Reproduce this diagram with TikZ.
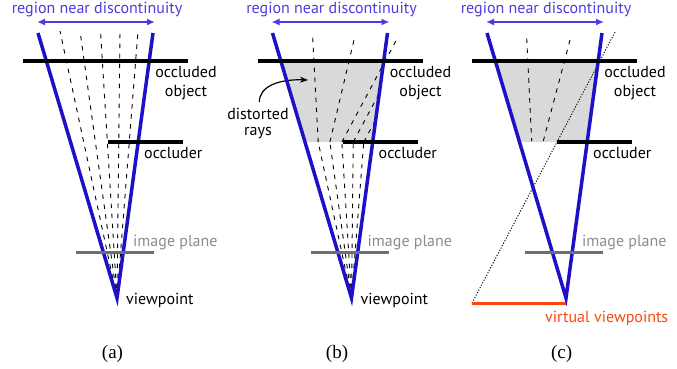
\documentclass[tikz,border=0pt]{standalone}
\usepackage{fontspec}
\setmainfont{PT Sans}
\newfontfamily\capfont{Liberation Serif}
\usetikzlibrary{arrows.meta,calc}
\definecolor{lineblue}{RGB}{30,15,200}
\definecolor{regblue}{RGB}{75,60,225}
\definecolor{occgray}{RGB}{217,217,217}
\definecolor{planegray}{RGB}{110,110,110}
\definecolor{planetext}{RGB}{140,140,140}
\definecolor{vred}{RGB}{255,70,10}
\begin{document}
\begin{tikzpicture}[x=1pt,y=-1pt,
  lbl/.style={font=\fontsize{16}{18}\selectfont, inner sep=0pt, anchor=base west},
  clbl/.style={font=\fontsize{16}{18}\selectfont, inner sep=0pt, anchor=base},
  caption/.style={font=\capfont\fontsize{19}{21}\selectfont, inner sep=0pt, anchor=base},
  ray/.style={line width=0.9pt, dash pattern=on 4.5pt off 5.5pt},
  cone/.style={line width=3.5pt, draw=lineblue, line join=miter},
  wall/.style={line width=3.5pt, draw=black},
  plane/.style={line width=3pt, draw=planegray},
  region/.style={line width=1.5pt, draw=regblue, {Latex[length=8pt,width=7pt]}-{Latex[length=8pt,width=7pt]}},
  hidden/.style={fill=occgray, draw=none}
]
\useasboundingbox (0,0) rectangle (677,368);

% ---------- panel (b) specific ----------
\begin{scope}[xshift=234.5]
  \coordinate (b-lt) at (38,33);
  \coordinate (b-rt) at (153,33);
  \coordinate (b-vp) at (117,298);
  \fill[occgray] ($(b-lt)!0.10566!(b-vp)$) -- ($(b-rt)!0.10566!(b-vp)$)
     -- ($(b-rt)!0.41132!(b-vp)$) -- ($(b-lt)!0.41132!(b-vp)$) -- cycle;
  \foreach \t [count=\i] in {60,80,100.5,120,138}{
    \coordinate (b-top\i) at (\t,31);
    \coordinate (b-bend\i) at ($(b-vp)!0.5843!(b-top\i)$);
    \draw[ray] (b-vp) -- (b-bend\i);
  }
  \coordinate (b-end1) at (78.2,37.7);
  \coordinate (b-end2) at (119.5,40);
  \coordinate (b-end3) at (162.8,38.3);
  \coordinate (b-end4) at ($(b-rt)!0.227!(b-vp)$);
  \coordinate (b-end5) at ($(b-rt)!0.3268!(b-vp)$);
  \foreach \i in {1,...,5}{\draw[ray] (b-bend\i) -- (b-end\i);}
  \node[clbl] (b-dist) at (23.5,119.3) {distorted};
  \node[clbl] (b-rays) at (23.5,135) {rays};
  \coordinate (b-as) at (24.8,102);
  \coordinate (b-ae) at (73.5,80);
  \draw[line width=1.2pt, -{Stealth[length=8pt,width=6pt]}] (b-as) .. controls (24.8,86) and (45,79) .. (b-ae);
  \node[lbl] (b-vpt) at (126,304) {viewpoint};
\end{scope}

% ---------- panel (c) specific ----------
\begin{scope}[xshift=449]
  \coordinate (c-lt) at (38,33);
  \coordinate (c-rt) at (153,33);
  \coordinate (c-vp) at (117,298);
  \fill[occgray] ($(c-lt)!0.10566!(c-vp)$) -- ($(c-rt)!0.10566!(c-vp)$)
     -- ($(c-rt)!0.41132!(c-vp)$) -- ($(c-lt)!0.41132!(c-vp)$) -- cycle;
  \coordinate (c-top1) at (77.7,38.3);
  \coordinate (c-bot1) at (82.7,141);
  \coordinate (c-top2) at (121,40);
  \coordinate (c-bot2) at (94.3,141);
  \draw[ray] (c-top1) -- (c-bot1);
  \draw[ray] (c-top2) -- (c-bot2);
  \coordinate (c-vl) at (23,303);
  \coordinate (c-vr) at (117,303);
  \coordinate (c-ocl) at (108,142);
  \coordinate (c-dot) at ($(c-vl)!1.6832!(c-ocl)$);
  \draw[line width=0.9pt, dash pattern=on 1.2pt off 1.6pt] (c-vl) -- (c-dot);
  \draw[line width=3pt, draw=vred] (c-vl) -- (c-vr);
  \node[lbl, text=vred] (c-vvp) at (96,322.7) {virtual viewpoints};
\end{scope}

% ---------- panel (a) specific ----------
\coordinate (a-vp) at (117,298);
\foreach \t [count=\i] in {60,80,100.5,120,138}{
  \coordinate (a-top\i) at (\t,31);
  \draw[ray] (a-vp) -- (a-top\i);
}
\node[lbl] (a-vpt) at (126,304) {viewpoint};

% ---------- common elements ----------
\foreach \dx/\p/\cx in {0/a/112.5, 234.5/b/102.5, 449/c/112.7}{
\begin{scope}[xshift=\dx]
  \coordinate (\p-L) at (38,33);
  \coordinate (\p-R) at (153,33);
  \coordinate (\p-V) at (117,298);
  \draw[cone] (\p-L) -- (\p-V) -- (\p-R);
  \coordinate (\p-o1) at (23,61);
  \coordinate (\p-o2) at (188,61);
  \draw[wall] (\p-o1) -- (\p-o2);
  \coordinate (\p-c1) at (108,142);
  \coordinate (\p-c2) at (183,142);
  \draw[wall] (\p-c1) -- (\p-c2);
  \coordinate (\p-i1) at (76,252);
  \coordinate (\p-i2) at (154,252);
  \draw[plane] (\p-i1) -- (\p-i2);
  \coordinate (\p-a1) at (37,22);
  \coordinate (\p-a2) at (155,22);
  \draw[region] (\p-a1) -- (\p-a2);
  \node[clbl, text=regblue] (\p-title) at (97,13) {region near discontinuity};
  \node[clbl] (\p-occ1) at (186,77.7) {occluded};
  \node[clbl] (\p-occ2) at (186,96.7) {object};
  \node[lbl] (\p-occl) at (144,158.3) {occluder};
  \node[lbl, text=planetext] (\p-img) at (133,246) {image plane};
  \node[caption] (\p-cap) at (\cx,358) {(\p)};
\end{scope}
}
\end{tikzpicture}
\end{document}
